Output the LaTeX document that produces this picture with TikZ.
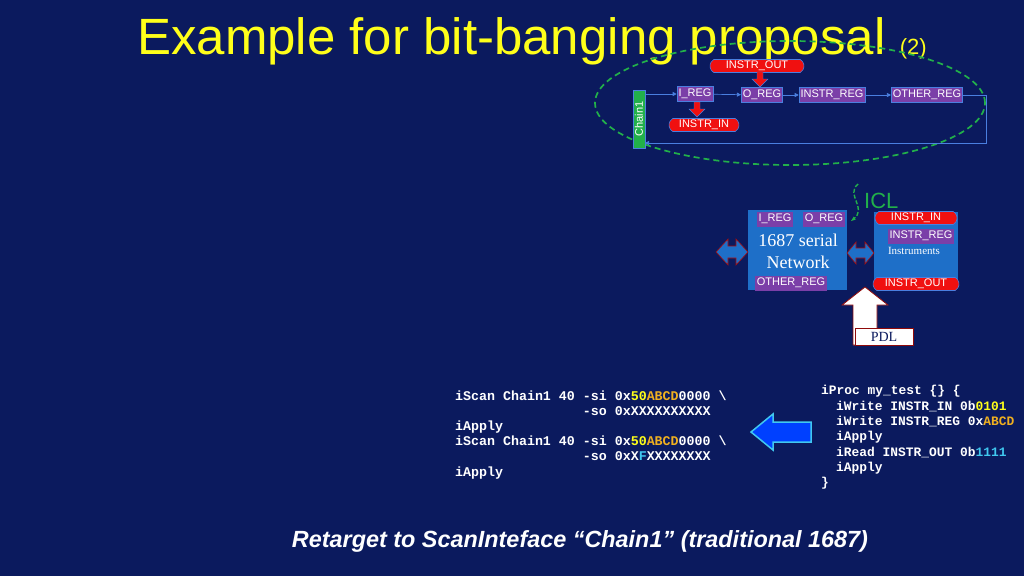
\documentclass[tikz,border=0pt]{standalone}
\usepackage{fontspec}
\setmainfont{Liberation Serif}
\setsansfont{Liberation Sans}
\setmonofont{Liberation Mono}
\usetikzlibrary{shapes.geometric,shapes.misc,arrows.meta}
\definecolor{bg}{HTML}{0B1A5E}
\definecolor{ttl}{HTML}{FFFF1A}
\definecolor{pur}{HTML}{7B3FA8}
\definecolor{boxb}{HTML}{1E6FC8}
\definecolor{regred}{HTML}{F01010}
\definecolor{grn}{HTML}{22B04A}
\definecolor{lnb}{HTML}{4A7FE0}
\definecolor{org}{HTML}{F0B020}
\definecolor{cyn}{HTML}{40C8F0}
\begin{document}
\begin{tikzpicture}[x=1pt,y=-1pt,
  reg/.style={fill=pur,draw=lnb,line width=0.6pt,text=white,font=\sffamily\fontsize{11}{12}\selectfont,inner sep=1.5pt,minimum height=15},
  redreg/.style={rounded rectangle,rounded rectangle arc length=120,fill=regred,draw=lnb,line width=0.6pt,text=white,font=\sffamily\fontsize{11}{12}\selectfont,inner sep=1pt,minimum height=13},
  con/.style={draw=lnb,line width=0.7pt,-{Triangle[length=4pt,width=4pt]}},
  redarr/.style={fill=regred,draw=lnb,line width=0.4pt},
  dbl/.style={fill=boxb,draw=regred!70!black,line width=0.6pt},
  code/.style={anchor=base west,text=white,font=\ttfamily\bfseries\fontsize{13.3}{15}\selectfont,inner sep=0pt},
  rcode/.style={code,font=\ttfamily\bfseries\fontsize{12.9}{15}\selectfont}]
\fill[bg] (0,0) rectangle (1024,576);
\useasboundingbox (0,0) rectangle (1024,576);
\node[anchor=base west,text=ttl,font=\sffamily\fontsize{51}{53}\selectfont,inner sep=0] (title) at (137,54) {Example for bit-banging proposal \fontsize{22}{24}\selectfont(2)};
% ellipse
\node[ellipse,draw=grn,line width=1.7pt,minimum width=390,minimum height=124,dash pattern=on 6pt off 4pt] (ell) at (790,103) {};
\node[redreg,minimum width=96] (iout) at (757,66) {INSTR\_OUT};
\node[fill=grn,draw=lnb,line width=0.5pt,rotate=90,text=white,font=\sffamily\fontsize{11}{12}\selectfont,minimum width=58,minimum height=12,inner sep=0.5pt] (ch) at (639,119) {Chain1};
\node[reg] (ireg) at (695,94) {I\_REG};
\node[reg] (oreg) at (762,95) {O\_REG};
\node[reg] (ireg2) at (832,95) {INSTR\_REG};
\node[reg] (oth) at (927,95) {OTHER\_REG};
\node[redreg,minimum width=72] (iin) at (704,125) {INSTR\_IN};
\draw[redarr] (757,72) -- (763,72) -- (763,79) -- (768,79) -- (760,87) -- (752,79) -- (757,79) -- cycle;
\draw[redarr] (694,102) -- (700,102) -- (700,109) -- (705,109) -- (697,117) -- (689,109) -- (694,109) -- cycle;
\draw[con] (ch.south |- ireg) -- (ireg);
\draw[con] (ireg) -- (oreg);
\draw[con] (oreg) -- (ireg2);
\draw[con] (ireg2) -- (oth);
\coordinate (c1) at (986,95);
\coordinate (c2) at (986,143);
\coordinate (c3) at (645,143);
\draw[con] (oth.east) -- (c1) -- (c2) -- (c3);
% ICL
\coordinate (s1) at (858,184);
\coordinate (s2) at (851,221);
\draw[grn,line width=1.4pt,dash pattern=on 4pt off 2pt,-{Stealth[length=5pt]}] (s1) .. controls (845,195) and (868,208) .. (s2);
\node[anchor=west,text=grn,font=\sffamily\fontsize{22}{24}\selectfont,inner sep=0] (icl) at (864,201) {ICL};
% network box
\node[fill=boxb,minimum width=99,minimum height=80,inner sep=0] (net) at (797.5,250) {};
\node[text=white,font=\fontsize{18}{22}\selectfont,align=center] (nett) at (798,251) {1687 serial\\Network};
\node[reg,draw=none] (n1) at (775,219) {I\_REG};
\node[reg,draw=none] (n2) at (824,219) {O\_REG};
\node[reg,draw=none] (n3) at (791,283) {OTHER\_REG};
\node[fill=boxb,minimum width=84,minimum height=76,inner sep=0] (ins) at (916,250) {};
\node[redreg,minimum width=84] (b1) at (916,218) {INSTR\_IN};
\node[reg,draw=none] (b2) at (921,236) {INSTR\_REG};
\node[text=white,font=\fontsize{11}{12}\selectfont,inner sep=0] (b3) at (914,251) {Instruments};
\node[redreg,minimum width=88] (b4) at (916,284) {INSTR\_OUT};
\draw[dbl] (716,252) -- (728,239) -- (728,246) -- (736,246) -- (736,239) -- (748,252) -- (736,265) -- (736,258) -- (728,258) -- (728,265) -- cycle;
\draw[dbl] (847,253) -- (856,242) -- (856,248) -- (865,248) -- (865,242) -- (874,253) -- (865,264) -- (865,258) -- (856,258) -- (856,264) -- cycle;
\draw[fill=white,draw=regred!60!black,line width=0.8pt] (853,345) -- (853,305) -- (842,305) -- (865,287) -- (888,305) -- (877,305) -- (877,345) -- cycle;
\node[fill=white,draw=regred!60!black,line width=0.8pt,minimum width=58,minimum height=17,inner sep=0,text=bg,font=\fontsize{14}{15}\selectfont] (pdl) at (884,337) {PDL};
% code left
\node[code] (l1) at (455,400) {iScan Chain1 40 -si 0x\textcolor{ttl}{50}\textcolor{org}{ABCD}0000 \textbackslash};
\node[code] (l2) at (455,415) {\phantom{iScan Chain1 40 }-so 0xXXXXXXXXXX};
\node[code] (l3) at (455,430) {iApply};
\node[code] (l4) at (455,445) {iScan Chain1 40 -si 0x\textcolor{ttl}{50}\textcolor{org}{ABCD}0000 \textbackslash};
\node[code] (l5) at (455,460) {\phantom{iScan Chain1 40 }-so 0xX\textcolor{cyn}{F}XXXXXXXX};
\node[code] (l6) at (455,476) {iApply};
% code right
\node[rcode] (r1) at (821,394) {iProc my\_test \{\} \{};
\node[rcode] (r2) at (836,410) {iWrite INSTR\_IN 0b\textcolor{ttl}{0101}};
\node[rcode] (r3) at (836,425) {iWrite INSTR\_REG 0x\textcolor{org}{ABCD}};
\node[rcode] (r4) at (836,440) {iApply};
\node[rcode] (r5) at (836,456) {iRead INSTR\_OUT 0b\textcolor{cyn}{1111}};
\node[rcode] (r6) at (836,471) {iApply};
\node[rcode] (r7) at (821,486) {\}};
\draw[fill=blue!75!cyan,draw=cyn,line width=1.5pt] (751,432) -- (773,414) -- (773,422) -- (811,422) -- (811,442) -- (773,442) -- (773,450) -- cycle;
\node[text=white,font=\sffamily\bfseries\itshape\fontsize{23.4}{26}\selectfont] (foot) at (580,541) {Retarget to ScanInteface “Chain1” (traditional 1687)};
\end{tikzpicture}
\end{document}
